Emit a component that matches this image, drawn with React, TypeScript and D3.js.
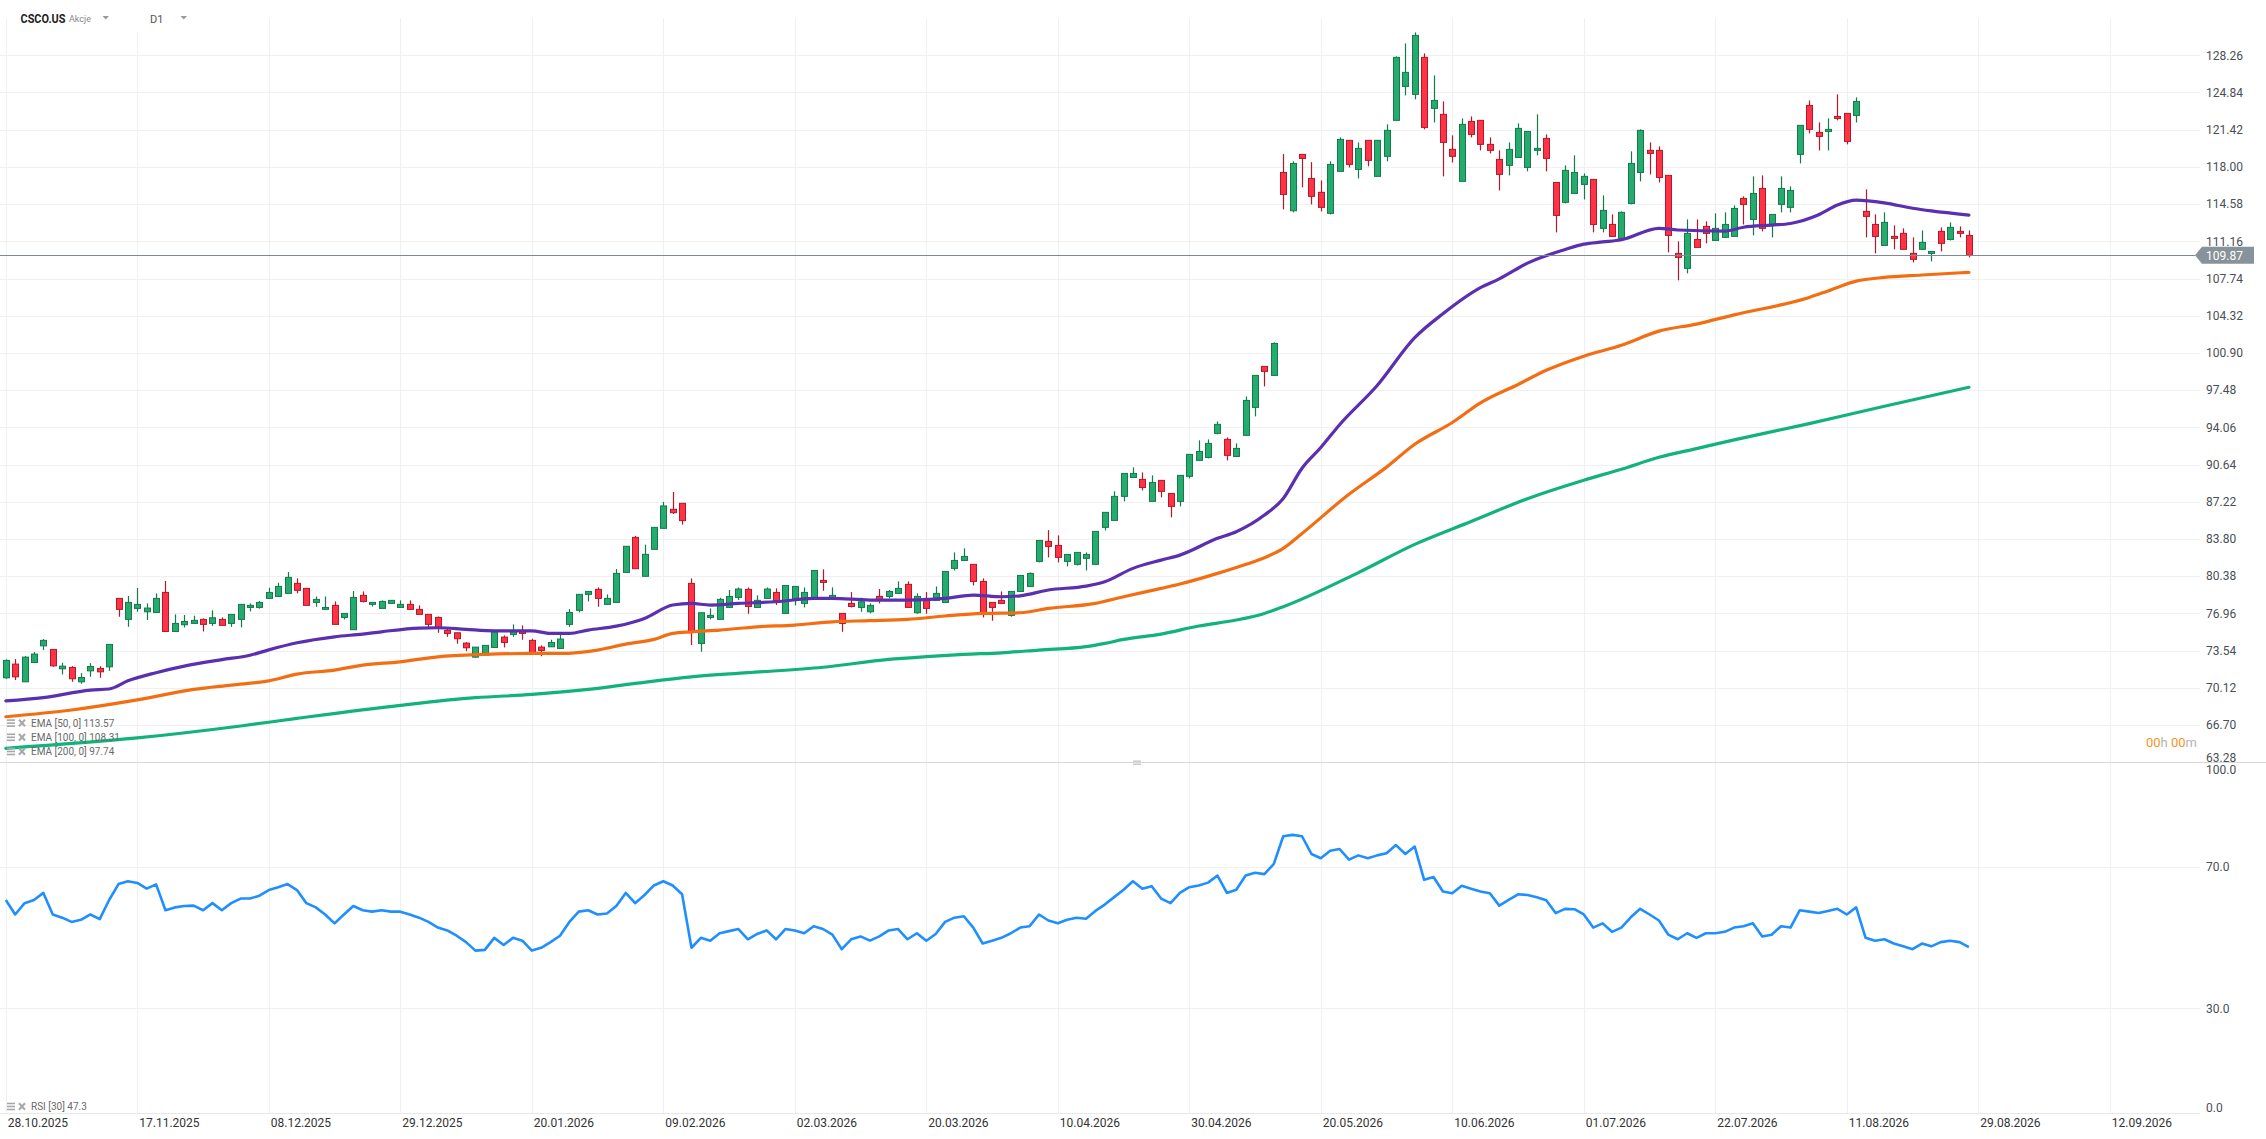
import React, { useEffect } from 'react';
import * as d3 from 'd3';

const W = 2266;
const H = 1139;

// bottom axis labels, one every 14 sessions
const dateLabels = [
  '28.10.2025', '17.11.2025', '08.12.2025', '29.12.2025', '20.01.2026', '09.02.2026',
  '02.03.2026', '20.03.2026', '10.04.2026', '30.04.2026', '20.05.2026', '10.06.2026',
  '01.07.2026', '22.07.2026', '11.08.2026', '29.08.2026', '12.09.2026'
];
const priceTicks = [128.26, 124.84, 121.42, 118.0, 114.58, 111.16, 107.74, 104.32, 100.9, 97.48,
  94.06, 90.64, 87.22, 83.8, 80.38, 76.96, 73.54, 70.12, 66.7, 63.28];
const rsiTicks = [100, 70, 30, 0];
const lastPrice = 109.87;

const opens = [
  71.03, 72.29, 70.66, 72.44, 73.97, 73.64, 71.86, 71.98, 70.66, 71.67,
  71.89, 72.04, 78.33, 76.40, 77.41, 77.10, 77.04, 78.88, 75.29, 75.91,
  76.03, 76.40, 76.03, 76.40, 76.03, 76.40, 77.50, 77.50, 78.33, 78.51,
  78.79, 79.71, 79.25, 77.96, 77.32, 77.69, 76.58, 75.45, 78.61, 77.78,
  77.41, 77.87, 77.50, 77.78, 77.32, 76.86, 76.58, 75.39, 75.17, 74.22,
  72.93, 73.12, 73.82, 74.77, 75.02, 75.26, 74.47, 73.85, 73.88, 73.73,
  75.94, 77.23, 78.70, 79.16, 77.78, 77.96, 80.72, 83.94, 80.36, 82.84,
  84.77, 86.52, 87.07, 79.71, 74.19, 76.58, 76.40, 77.50, 78.42, 79.16,
  77.50, 78.33, 78.88, 76.95, 78.33, 77.87, 78.24, 79.98, 78.42, 76.95,
  77.87, 77.50, 77.10, 78.51, 78.51, 78.79, 79.62, 77.01, 78.33, 78.15,
  77.96, 81.09, 81.82, 81.46, 79.89, 77.96, 78.15, 76.77, 78.97, 79.43,
  81.73, 83.57, 83.20, 81.73, 81.46, 82.01, 81.46, 84.86, 85.50, 87.71,
  89.45, 89.27, 87.25, 89.18, 87.98, 87.25, 89.55, 91.02, 91.29, 93.50,
  92.95, 91.38, 93.32, 95.89, 99.66, 98.83, 117.49, 113.97, 119.15, 116.94,
  115.66, 113.73, 117.59, 120.44, 117.77, 120.44, 117.13, 118.97, 122.28, 125.40,
  124.67, 128.07, 123.38, 122.83, 119.61, 116.67, 122.18, 122.28, 120.07, 118.69,
  118.14, 118.87, 117.95, 119.52, 120.62, 116.57, 114.74, 115.56, 116.39, 116.85,
  112.35, 112.71, 111.43, 114.64, 117.49, 119.52, 119.52, 117.22, 110.05, 108.67,
  111.33, 112.53, 111.24, 111.52, 111.61, 115.10, 113.17, 116.02, 112.62, 114.55,
  114.28, 119.15, 123.65, 121.17, 121.26, 122.64, 122.92, 122.73, 113.91, 112.71,
  110.78, 111.61, 111.89, 110.05, 110.42, 110.05, 112.07, 111.33, 112.07, 111.70
];
const highs = [
  72.72, 72.75, 73.02, 73.39, 74.59, 73.64, 72.41, 72.10, 71.46, 72.38,
  72.10, 74.10, 78.33, 78.55, 79.28, 77.87, 78.79, 79.93, 76.86, 76.80,
  76.74, 76.49, 77.23, 76.58, 76.86, 77.78, 77.87, 78.09, 79.31, 79.77,
  80.75, 80.17, 79.25, 78.51, 78.51, 78.05, 76.95, 79.00, 78.97, 77.96,
  78.15, 78.15, 78.15, 78.15, 77.69, 76.86, 76.67, 75.66, 75.17, 74.31,
  73.85, 74.01, 75.26, 74.93, 75.94, 75.85, 74.62, 74.01, 74.53, 75.02,
  77.35, 78.70, 78.97, 79.34, 78.70, 81.03, 83.12, 84.07, 83.27, 84.86,
  87.20, 88.12, 87.07, 80.17, 77.01, 77.41, 78.39, 79.10, 79.34, 79.34,
  78.61, 79.34, 79.25, 79.52, 79.43, 79.34, 80.90, 81.00, 79.34, 76.95,
  78.91, 78.39, 77.87, 79.19, 79.10, 79.89, 79.89, 78.79, 78.91, 79.43,
  80.81, 82.56, 82.93, 81.46, 80.17, 77.96, 78.97, 78.97, 80.44, 80.72,
  83.66, 84.61, 84.12, 82.37, 82.56, 82.56, 84.49, 86.24, 88.17, 89.82,
  90.37, 89.91, 89.64, 89.18, 87.98, 89.64, 91.57, 92.86, 92.95, 94.60,
  93.13, 92.58, 96.90, 98.83, 99.66, 101.87, 119.18, 118.51, 119.15, 118.44,
  116.76, 118.51, 120.71, 120.44, 120.25, 120.44, 120.44, 121.91, 128.16, 129.35,
  130.37, 128.44, 126.41, 124.02, 120.90, 122.46, 122.64, 122.28, 120.71, 119.52,
  120.25, 122.00, 121.26, 122.83, 120.99, 116.57, 118.14, 119.06, 117.40, 116.85,
  115.38, 113.63, 113.91, 119.43, 121.45, 120.25, 119.89, 117.22, 111.15, 113.17,
  113.17, 112.99, 113.73, 113.82, 114.46, 115.29, 117.13, 117.22, 113.63, 117.13,
  116.21, 121.82, 124.11, 122.09, 122.46, 124.67, 122.92, 124.39, 115.93, 113.63,
  113.82, 112.62, 112.35, 111.52, 112.16, 110.23, 112.44, 112.90, 112.53, 112.16
];
const lows = [
  70.94, 70.82, 70.66, 72.44, 73.58, 72.04, 71.34, 70.66, 70.48, 71.12,
  71.03, 71.67, 76.64, 75.72, 77.10, 76.34, 77.04, 75.29, 75.29, 75.66,
  76.03, 75.29, 75.81, 75.85, 75.72, 75.66, 77.13, 77.38, 78.33, 78.51,
  78.79, 78.79, 77.69, 77.56, 77.32, 75.94, 76.40, 75.45, 77.96, 77.59,
  77.41, 77.87, 77.50, 77.32, 76.86, 75.66, 75.17, 74.80, 74.16, 73.48,
  72.87, 73.12, 73.82, 73.82, 74.80, 74.53, 73.27, 73.02, 73.88, 73.73,
  75.72, 77.04, 78.05, 77.56, 77.78, 77.96, 80.72, 81.06, 80.36, 82.84,
  84.77, 86.09, 85.11, 74.04, 73.43, 76.40, 76.40, 77.50, 78.18, 76.92,
  77.50, 78.33, 77.72, 76.95, 77.69, 77.50, 78.24, 79.03, 78.24, 75.26,
  77.50, 77.10, 76.95, 77.87, 78.33, 78.79, 77.50, 76.92, 76.92, 78.15,
  77.96, 80.90, 81.82, 79.52, 76.58, 76.28, 77.87, 76.64, 78.97, 79.43,
  81.64, 82.10, 81.64, 81.27, 81.36, 80.90, 81.46, 84.58, 85.50, 87.25,
  89.45, 88.26, 87.25, 87.62, 85.78, 86.79, 89.36, 91.02, 91.20, 93.41,
  91.02, 91.38, 93.32, 95.06, 97.82, 98.83, 114.09, 113.82, 116.12, 114.55,
  113.91, 113.63, 117.59, 117.95, 116.94, 118.05, 117.13, 118.51, 122.28, 124.57,
  124.21, 121.45, 122.09, 117.13, 118.41, 116.67, 120.71, 119.52, 119.24, 115.84,
  117.22, 118.87, 117.59, 119.06, 117.59, 111.98, 114.64, 115.56, 115.01, 111.98,
  111.98, 111.61, 111.33, 114.55, 116.67, 117.31, 116.57, 110.14, 107.57, 108.21,
  110.60, 110.97, 111.24, 111.52, 111.61, 112.71, 111.70, 112.07, 111.52, 113.82,
  113.82, 118.32, 121.08, 119.52, 119.52, 122.28, 120.07, 122.09, 111.52, 110.05,
  110.78, 110.42, 110.42, 109.22, 110.42, 109.31, 110.23, 111.24, 111.52, 109.68
];
const closes = [
  72.63, 71.12, 72.93, 73.21, 74.47, 72.13, 72.10, 70.94, 71.06, 72.07,
  71.58, 74.10, 77.32, 77.96, 77.78, 77.44, 78.33, 75.29, 76.03, 76.21,
  76.31, 75.94, 76.55, 75.85, 76.86, 77.78, 77.69, 77.96, 78.88, 79.43,
  80.26, 79.07, 77.69, 78.24, 77.50, 75.94, 76.95, 78.42, 78.05, 77.96,
  78.05, 78.15, 77.78, 77.32, 76.86, 75.94, 75.57, 75.11, 74.62, 73.79,
  73.85, 74.01, 75.26, 74.28, 75.26, 75.11, 73.27, 73.55, 74.28, 74.59,
  77.04, 78.70, 78.97, 78.33, 78.33, 80.63, 83.12, 81.06, 82.38, 84.86,
  86.83, 86.21, 85.48, 75.26, 77.01, 76.77, 78.24, 78.51, 79.19, 77.59,
  78.15, 79.19, 78.12, 79.52, 79.43, 78.88, 80.90, 79.80, 78.61, 76.03,
  77.59, 78.02, 77.69, 78.15, 78.97, 79.25, 77.50, 78.51, 77.41, 78.79,
  80.81, 81.82, 82.19, 79.89, 76.92, 77.50, 77.87, 78.97, 80.44, 80.63,
  83.66, 83.11, 82.10, 82.37, 82.56, 82.37, 84.49, 86.24, 87.71, 89.82,
  89.82, 88.53, 88.99, 88.17, 86.79, 89.64, 91.57, 91.84, 92.58, 94.33,
  91.48, 92.12, 96.53, 98.83, 99.20, 101.77, 115.47, 118.32, 118.78, 115.29,
  114.28, 118.23, 120.53, 118.23, 119.70, 118.60, 120.44, 121.36, 128.07, 126.69,
  130.09, 121.63, 124.11, 120.25, 118.97, 121.91, 120.99, 120.07, 119.52, 117.31,
  119.61, 121.54, 121.26, 119.70, 118.78, 113.54, 117.68, 117.49, 117.13, 112.71,
  114.00, 111.61, 113.82, 118.32, 121.36, 119.24, 117.03, 111.70, 109.68, 111.89,
  110.60, 111.89, 112.35, 112.71, 114.18, 114.55, 115.56, 112.35, 113.63, 116.02,
  115.84, 121.82, 121.45, 120.80, 121.45, 122.46, 120.34, 124.02, 113.45, 111.61,
  112.90, 111.43, 110.42, 109.50, 111.06, 110.23, 110.97, 112.44, 111.89, 109.87
];

const ema50Bars = [0, 4, 9, 11, 13, 16, 19, 23, 26, 28, 31, 35, 38, 40, 44, 46, 49, 52, 56, 58, 60, 62, 65, 68,
  71, 73, 75, 78, 82, 86, 88, 92, 96, 100, 103, 106, 108, 111, 115, 117, 120, 123, 125, 129, 131, 134, 136,
  138, 140, 142, 146, 150, 153, 157, 159, 162, 166, 168, 170, 172, 176, 178, 183, 185, 188, 190, 193,
  195, 197, 200, 203, 205, 209];
const ema50Values = [68.9, 69.2, 69.9, 70.0, 70.75, 71.5, 72.1, 72.7, 73.1, 73.6, 74.25, 74.8, 75.05, 75.26,
  75.6, 75.63, 75.48, 75.35, 75.35, 75.11, 75.11, 75.42, 75.78, 76.49, 77.72, 77.87, 77.72, 77.87, 78.02,
  78.33, 78.33, 78.18, 78.18, 78.33, 78.64, 78.48, 78.57, 79.1, 79.46, 79.86, 81.09, 81.85, 82.31, 83.85,
  84.46, 85.99, 87.52, 90.3, 92.2, 94.3, 97.9, 102.3, 104.5, 106.9, 107.7, 109.15, 110.4, 110.9,
  111.1, 111.3, 112.35, 112.2, 112.1, 112.45, 112.65, 112.8, 113.6, 114.5, 114.95, 114.7, 114.2, 113.95, 113.57];
const ema100Bars = [0, 7, 14, 20, 24, 28, 31, 35, 38, 42, 46, 51, 56, 59, 63, 66, 69, 71, 73, 76, 80, 84, 88,
  92, 96, 100, 104, 108, 111, 116, 119, 123, 125, 129, 131, 134, 136, 138, 143, 147, 150, 154, 157, 161,
  164, 168, 172, 176, 180, 184, 192, 194, 197, 200, 204, 209];
const ema100Values = [67.45, 68.07, 69.0, 69.96, 70.36, 70.75, 71.37, 71.74, 72.2, 72.5, 72.96, 73.18, 73.27,
  73.27, 73.58, 74.13, 74.56, 75.11, 75.26, 75.42, 75.72, 75.88, 76.18, 76.28, 76.4, 76.71, 76.95, 77.01,
  77.41, 77.87, 78.48, 79.25, 79.65, 80.63, 81.18, 82.07, 82.93, 84.3, 87.9, 90.4, 92.5, 94.5, 96.3, 98.0,
  99.3, 100.6, 101.6, 102.9, 103.55, 104.4, 106.0, 106.6, 107.5, 107.84, 108.06, 108.31];
const ema200Bars = [0, 14, 25, 31, 42, 50, 56, 62, 67, 73, 79, 87, 94, 98, 102, 106, 110, 115, 117, 119, 123,
  127, 131, 134, 136, 144, 150, 156, 162, 168, 172, 176, 180, 184, 192, 200, 209];
const ema200Values = [64.55, 65.5, 66.6, 67.3, 68.5, 69.2, 69.5, 69.96, 70.51, 71.12, 71.5, 72.0, 72.72, 72.97,
  73.18, 73.33, 73.58, 73.89, 74.19, 74.56, 75.05, 75.79, 76.34, 76.95, 77.56, 80.7, 83.3, 85.4, 87.5,
  89.2, 90.2, 91.3, 92.1, 92.9, 94.4, 96.0, 97.74];

const rsiValues = [
  60.6, 56.5, 59.7, 60.6, 62.6, 56.5, 55.6, 54.4, 55.0, 56.5,
  55.2, 60.6, 65.1, 65.9, 65.4, 63.8, 65.0, 57.7, 58.5, 58.9,
  59.0, 57.7, 59.7, 57.7, 59.7, 61.0, 61.0, 61.8, 63.4, 64.2,
  65.1, 63.4, 59.7, 58.5, 56.5, 54.0, 56.5, 58.9, 57.7, 57.3,
  57.7, 57.3, 57.3, 56.5, 55.6, 54.4, 52.8, 52.0, 50.5, 48.7,
  46.3, 46.5, 49.9, 47.9, 49.9, 49.1, 46.3, 47.1, 48.7, 50.5,
  54.4, 57.3, 57.7, 56.5, 56.8, 58.9, 62.6, 59.7, 62.0, 64.7,
  65.9, 64.7, 62.2, 47.1, 49.9, 49.1, 51.2, 51.8, 52.4, 49.5,
  51.0, 52.0, 49.5, 52.4, 52.0, 51.2, 53.2, 52.4, 50.8, 46.7,
  49.5, 50.3, 49.1, 50.3, 52.0, 52.4, 49.5, 51.2, 49.1, 51.0,
  54.4, 55.6, 56.0, 52.8, 48.3, 49.1, 49.9, 51.2, 52.8, 53.2,
  56.5, 54.8, 54.0, 55.0, 55.6, 55.3, 57.5, 59.3, 61.4, 63.5,
  65.9, 63.8, 64.5, 61.0, 59.7, 62.6, 64.2, 64.7, 65.5, 67.5,
  62.6, 63.5, 67.5, 68.3, 67.9, 70.8, 78.6, 79.0, 78.6, 73.6,
  72.4, 74.5, 75.0, 72.0, 73.2, 72.4, 73.2, 73.8, 76.1, 73.6,
  75.7, 66.3, 67.1, 63.0, 62.5, 64.6, 63.8, 63.0, 62.5, 59.0,
  60.6, 62.2, 62.0, 61.4, 60.5, 56.9, 58.1, 58.0, 56.5, 52.8,
  54.0, 51.6, 52.8, 55.7, 58.1, 56.5, 54.8, 50.8, 49.5, 51.2,
  49.9, 51.2, 51.2, 51.6, 52.8, 53.2, 54.0, 50.3, 50.8, 53.2,
  52.8, 57.7, 57.3, 56.9, 57.5, 58.1, 56.5, 58.5, 49.9, 49.1,
  49.5, 48.3, 47.5, 46.7, 48.3, 47.5, 48.7, 49.1, 48.7, 47.3
];

const legendRows = [
  { label: 'EMA [50, 0] 113.57' },
  { label: 'EMA [100, 0] 108.31' },
  { label: 'EMA [200, 0] 97.74' }
];

const FONT = 'Roboto, "Noto Sans", sans-serif';
const GRID = '#f0f0f0';
const UP_FILL = '#24ab6d';
const UP_LINE = '#147a4b';
const DOWN_FILL = '#ff3346';
const DOWN_LINE = '#b3192b';

const LegendIcons: React.FC<{ x: number; y: number }> = ({ x, y }) => (
  <g fill="#a8a8a8" stroke="#a8a8a8">
    <rect x={x} y={y - 4} width={8} height={1.6} stroke="none" />
    <rect x={x} y={y - 1} width={8} height={1.6} stroke="none" />
    <rect x={x} y={y + 2} width={8} height={1.6} stroke="none" />
    <line x1={x + 12} y1={y - 3.5} x2={x + 18} y2={y + 3} strokeWidth={2} />
    <line x1={x + 18} y1={y - 3.5} x2={x + 12} y2={y + 3} strokeWidth={2} />
  </g>
);

const App: React.FC = () => {
  useEffect(() => {
    document.body.style.margin = '0';
    document.body.style.overflow = 'hidden';
  }, []);

  const plotRight = 2200;
  const priceTop = 18;
  const priceBottom = 762;
  const rsiBottom = 1113;

  const x = d3.scaleLinear().domain([0, 14]).range([5.8, 137.3]);
  const y = d3.scaleLinear().domain([63.28, 128.26]).range([762.1, 55.3]);
  const yR = d3.scaleLinear().domain([0, 100]).range([1114.5, 760.5]);

  const emaLine = d3.line<[number, number]>()
    .x(d => x(d[0]))
    .y(d => y(d[1]))
    .curve(d3.curveMonotoneX);
  const rsiLine = d3.line<number>()
    .x((_, i) => x(i))
    .y(d => yR(d));

  const emaSeries = [
    { bars: ema200Bars, values: ema200Values, color: '#12b27c' },
    { bars: ema100Bars, values: ema100Values, color: '#f36e12' },
    { bars: ema50Bars, values: ema50Values, color: '#5a2fb0' }
  ];

  const tickIdx = dateLabels.map((_, i) => i * 14);
  const crisp = (v: number) => Math.round(v) + 0.5;
  const lastY = y(lastPrice);

  return (
    <svg width={W} height={H} style={{ display: 'block', position: 'absolute', left: 0, top: 0, background: '#fff' }}
      fontFamily={FONT}>
      <defs>
        <clipPath id="pricePane">
          <rect x={0} y={priceTop} width={plotRight} height={priceBottom - priceTop} />
        </clipPath>
      </defs>
      <rect width={W} height={H} fill="#fff" />

      {/* grid */}
      {tickIdx.map(t => (
        <line key={'vg' + t} x1={crisp(x(t))} x2={crisp(x(t))} y1={priceTop} y2={rsiBottom} stroke={GRID} />
      ))}
      {priceTicks.map(p => (
        <line key={'hg' + p} x1={0} x2={plotRight} y1={crisp(y(p))} y2={crisp(y(p))} stroke={GRID} />
      ))}
      {[70, 30].map(v => (
        <line key={'rg' + v} x1={0} x2={plotRight} y1={crisp(yR(v))} y2={crisp(yR(v))} stroke={GRID} />
      ))}

      {/* candles */}
      <g clipPath="url(#pricePane)">
        {closes.map((c, i) => {
          const o = opens[i];
          const up = c >= o;
          const cx = Math.round(x(i)) + 0.5;
          const top = y(Math.max(o, c));
          const bot = y(Math.min(o, c));
          return (
            <g key={'c' + i}>
              <line x1={cx} x2={cx} y1={y(highs[i])} y2={y(lows[i])} stroke={up ? UP_LINE : DOWN_LINE} strokeWidth={1.2} />
              <rect x={cx - 3} y={top} width={6} height={Math.max(1, bot - top)}
                fill={up ? UP_FILL : DOWN_FILL} stroke={up ? UP_LINE : DOWN_LINE} strokeWidth={1} />
            </g>
          );
        })}
        {emaSeries.map((s, k) => (
          <path key={'ema' + k} d={emaLine(s.bars.map((b, i) => [b, s.values[i]] as [number, number])) || ''}
            fill="none" stroke={s.color} strokeWidth={3.2} strokeLinejoin="round" strokeLinecap="round" />
        ))}
      </g>

      {/* last price line */}
      <line x1={0} x2={2195} y1={crisp(lastY)} y2={crisp(lastY)} stroke="#7f8a90" strokeWidth={1} />
      <path d={`M2195,${lastY} L2202,${lastY - 8.5} L2254,${lastY - 8.5} L2254,${lastY + 8.5} L2202,${lastY + 8.5} Z`} fill="#87939a" />
      <text x={2206} y={lastY + 4.3} fontSize={12} fill="#fff">{lastPrice.toFixed(2)}</text>

      {/* price axis */}
      {priceTicks.map(p => (
        <text key={'pt' + p} x={2206} y={Math.min(y(p), 758) + 4.2} fontSize={12} fill="#4a4f55">{p.toFixed(2)}</text>
      ))}

      <text x={2197} y={746.5} fontSize={13} textAnchor="end">
        <tspan fill="#f7931e">00</tspan><tspan fill="#b4b4b4">h </tspan>
        <tspan fill="#f7931e">00</tspan><tspan fill="#b4b4b4">m</tspan>
      </text>

      {/* legends */}
      {legendRows.map((r, k) => (
        <g key={'lg' + k}>
          <LegendIcons x={7} y={723.3 + k * 14.2} />
          <text x={31} y={723.3 + k * 14.2 + 3.6} fontSize={10} fill="#6a6a6a">{r.label}</text>
        </g>
      ))}

      {/* pane separator */}
      <line x1={0} x2={W} y1={762.5} y2={762.5} stroke="#d8d8d8" />
      <rect x={1133} y={760.5} width={8} height={1.3} fill="#c4c4c4" />
      <rect x={1133} y={763.5} width={8} height={1.3} fill="#c4c4c4" />

      {/* RSI */}
      <path d={rsiLine(rsiValues) || ''} fill="none" stroke="#1f8fff" strokeWidth={2.6} strokeLinejoin="round" />
      {rsiTicks.map(v => (
        <text key={'rt' + v} x={2206} y={Math.max(770, Math.min(yR(v), 1108)) + 4.2} fontSize={12} fill="#4a4f55">
          {v.toFixed(1)}
        </text>
      ))}
      <LegendIcons x={7} y={1106.7} />
      <text x={31} y={1110.3} fontSize={10} fill="#6a6a6a">RSI [30] 47.3</text>

      {/* time axis */}
      <line x1={0} x2={plotRight} y1={1113.5} y2={1113.5} stroke="#e8e8e8" />
      {tickIdx.map((t, k) => (
        <text key={'dt' + t} x={x(t) + 2} y={1127} fontSize={12} fill="#333">{dateLabels[k]}</text>
      ))}

      {/* header */}
      <rect x={10} y={0} width={195} height={32} fill="#fff" />
      <text x={20.5} y={22.5} fontSize={12.5} fontWeight={700} fill="#1e1e1e" textLength={45}
        lengthAdjust="spacingAndGlyphs">CSCO.US</text>
      <text x={69} y={21.5} fontSize={9} fill="#8a8a8a">Akcje</text>
      <path d="M102.5,16 L109,16 L105.75,19.5 Z" fill="#9a9a9a" />
      <text x={150} y={22.5} fontSize={11} fill="#555">D1</text>
      <path d="M180.5,16 L187,16 L183.75,19.5 Z" fill="#9a9a9a" />
    </svg>
  );
};

export default App;
